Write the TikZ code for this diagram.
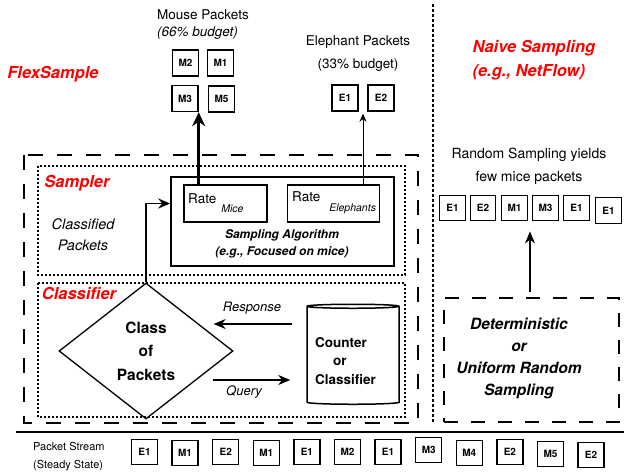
\documentclass[tikz,border=0pt]{standalone}
\usepackage{fontspec}
\setmainfont{TeX Gyre Heros}
\usetikzlibrary{shapes.geometric,arrows.meta,calc}

\begin{document}
\begin{tikzpicture}[x=1pt,y=-1pt,
    pkt/.style={draw,line width=1.4pt,minimum width=26pt,minimum height=26pt,inner sep=0pt,
      font=\bfseries\fontsize{10}{12}\selectfont},
    redlbl/.style={text=red,align=left,font=\bfseries\itshape\fontsize{16.5}{24}\selectfont},
    plain/.style={align=center,inner sep=0pt,font=\fontsize{13.5}{17}\selectfont},
    ratebox/.style={draw,line width=1.3pt,minimum height=37pt,inner sep=0pt},
    arr/.style={-{Stealth[length=12pt,width=10pt]},line width=1.2pt},
    thinarr/.style={-{Stealth[length=8pt,width=7pt]},line width=1pt},
    thickarr/.style={-{Stealth[length=14pt,width=13pt]},line width=3pt},
    bigdash/.style={line width=1.5pt,dash pattern=on 15pt off 14pt},
    dotbox/.style={line width=1.2pt,dash pattern=on 2pt off 2pt}]
  \useasboundingbox (0,0) rectangle (624,475);

  % FlexSample side
  \node[redlbl] (flex) at (53,74) {FlexSample};
  \draw[bigdash] (24,155) rectangle (418,423);
  \draw[dotbox] (38,166) rectangle (405,275);
  \draw[dotbox] (38,283) rectangle (405,417);
  \node[redlbl] (sampler) at (77,183) {Sampler};
  \node[redlbl] (classifier) at (79,293) {Classifier};
  \node[plain,font=\itshape\fontsize{14.5}{21}\selectfont] (classified) at (83,235) {Classified\\Packets};

  % output packets
  \node[plain,align=left,anchor=west] (mouselbl) at (157,25) {Mouse Packets\\{\itshape (66\% budget)}};
  \node[pkt] (m2) at (185.5,63) {M2};
  \node[pkt] (m1) at (220.5,63) {M1};
  \node[pkt] (m3) at (185,98.5) {M3};
  \node[pkt] (m5) at (221.5,99) {M5};
  \node[plain,font=\fontsize{13.5}{23}\selectfont] (elelbl) at (358,54) {Elephant Packets\\(33\% budget)};
  \node[pkt] (e1) at (345,98) {E1};
  \node[pkt] (e2) at (381,98) {E2};

  % sampler
  \node[draw,line width=1.5pt,minimum width=223pt,minimum height=89pt] (sampbox) at (282.5,221.5) {};
  \node[ratebox,minimum width=83pt] (ratemice) at (225.5,203.5) {};
  \node[ratebox,minimum width=92pt] (ratele) at (333.5,203.5) {};
  \node[anchor=base west,inner sep=0pt,font=\fontsize{13.5}{16}\selectfont] (micetxt) at (188,203)
    {Rate\hspace{5pt}\raisebox{-9pt}{\itshape\fontsize{10.5}{12}\selectfont Mice}};
  \node[anchor=base west,inner sep=0pt,font=\fontsize{13.5}{16}\selectfont] (eletxt) at (292,201)
    {Rate\hspace{9pt}\raisebox{-10pt}{\itshape\fontsize{10.5}{12}\selectfont Elephants}};
  \node[plain,font=\bfseries\itshape\fontsize{12}{17}\selectfont] (algtxt) at (282,244)
    {Sampling Algorithm\\(e.g., Focused on mice)};

  \draw[thickarr] (m3.south east |- ratemice.north) -- (m3.south east);
  \coordinate (gap) at ($(e1.south east)!0.5!(e2.south west)$);
  \draw[thinarr,shorten >=2pt] (gap |- ratele.north) -- (gap);

  % classifier
  \node[diamond,draw,line width=1.3pt,aspect=1.3,minimum width=174pt,minimum height=136pt,inner sep=0pt,
    align=center,font=\bfseries\fontsize{15.5}{23.5}\selectfont] (cls) at (146,351) {Class\\of\\Packets};
  \node[cylinder,draw,line width=1.5pt,shape border rotate=90,aspect=0.6,
    minimum width=92pt,minimum height=100pt] (db) at (353,356) {};
  \node[align=left,inner sep=0pt,font=\bfseries\fontsize{13.5}{18.5}\selectfont] (dbtxt) at (345.5,361)
    {Counter\\\hspace*{18pt}or\\Classifier};

  \draw[arr] (cls.north) |- (sampbox.west |- ratemice.center);
  \coordinate (resp) at (0,324);
  \coordinate (qry) at (0,380);
  \draw[arr] ([xshift=-14pt]db.west |- resp) -- ([xshift=-20pt]cls.east |- resp);
  \draw[arr] ([xshift=-21pt]cls.east |- qry) -- ([xshift=-16pt]db.west |- qry);
  \node[plain,font=\itshape\fontsize{13}{15}\selectfont] (resplbl) at (252,308) {Response};
  \node[plain,font=\itshape\fontsize{13}{15}\selectfont] (qrylbl) at (244,392) {Query};

  % naive side
  \draw[line width=2.5pt,dash pattern=on 2.5pt off 2.5pt] (433,4) -- (433,422);
  \node[redlbl,anchor=west] (naive) at (469,60) {Naive Sampling\\(e.g., NetFlow)};
  \node[plain,font=\fontsize{14}{23}\selectfont] (randlbl) at (529,166) {Random Sampling yields\\few mice packets};
  \foreach \lbl/\x/\y [count=\i] in {E1/452.5/208, E2/483/208, M1/514.5/208, M3/545.5/208, E1/576.5/208, E1/608.5/210.5}
    \node[pkt,minimum width=25.5pt,minimum height=25.5pt] (n\i) at (\x,\y) {\lbl};
  \node[bigdash,draw,line width=1.3pt,dash pattern=on 14pt off 13pt,minimum width=175pt,minimum height=124pt]
    (naivebox) at (531.5,360) {};
  \node[plain,font=\bfseries\itshape\fontsize{15.5}{22}\selectfont] (naivetxt) at (519,358)
    {Deterministic\\or\\Uniform Random\\Sampling};
  \coordinate (ngap) at ($(n3.south east)!0.5!(n4.south west)$);
  \draw[arr,shorten >=10pt,shorten <=5pt] (ngap |- naivebox.north) -- (ngap);

  % packet stream
  \draw[line width=1.3pt] (16,432) -- (624,432);
  \node[plain,align=left,anchor=west,font=\fontsize{11}{18}\selectfont] (stream) at (33,457)
    {Packet Stream\\(Steady State)};
  \foreach \lbl/\dy [count=\i from 0] in {E1/0, M1/1, E2/0, M1/1, E1/0, M2/0, E1/0, M3/-2, M4/1, E2/0, M5/2, E2/3}
    \node[pkt,minimum height=25pt] (s\i) at (144.5+40.6*\i, 452+\dy) {\lbl};
\end{tikzpicture}
\end{document}
